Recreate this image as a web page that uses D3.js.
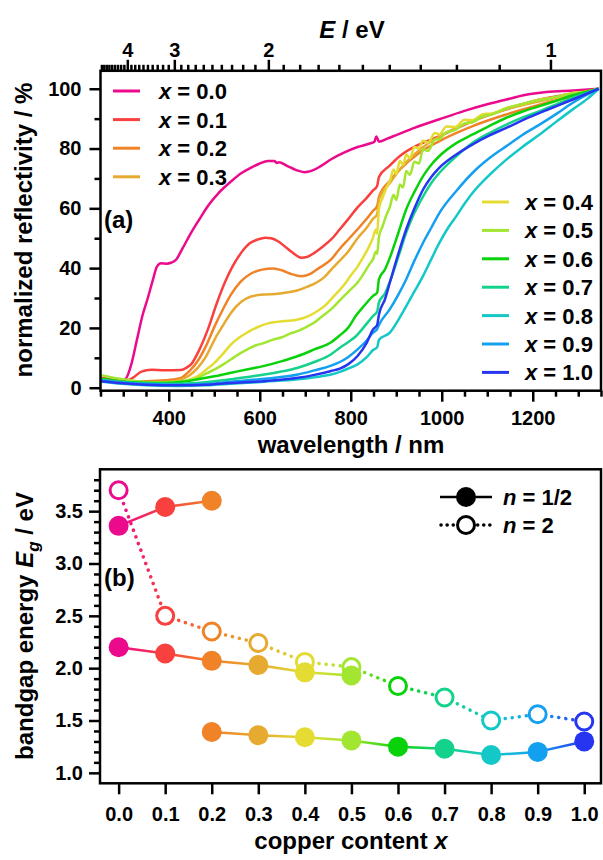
<!DOCTYPE html>
<meta charset="utf-8">
<style>
body { margin: 0; background: #fff; }
svg { font-family: "Liberation Sans", Arial, sans-serif; font-weight: bold; }
.frame { fill: none; stroke: #000; stroke-width: 2.5px; }
.axis path { display: none; }
.axis line { stroke: #000; stroke-width: 2.5px; }
.axis text { font-family: "Liberation Sans", Arial, sans-serif; font-weight: bold; font-size: 20px; fill: #000; }
.spec { fill: none; stroke-width: 2.5px; stroke-linejoin: round; }
.title { font-size: 24px; }
.leg { font-size: 22px; }
</style>
<body>
<svg width="603" height="860"></svg>
</body>
<script src="https://d3js.org/d3.v7.min.js"></script>
<script>

// copper contents and colours
var comps = [0.0, 0.1, 0.2, 0.3, 0.4, 0.5, 0.6, 0.7, 0.8, 0.9, 1.0];
var colors = ["#ec0a8c", "#f8403e", "#f08228", "#e6aa30", "#e4dc32", "#a2e632",
              "#0ad20a", "#14d28c", "#14c8c8", "#14a0f0", "#2636f0"];

// spectra, [wavelength nm, normalized reflectivity %]
var r00 = [[252,3.0],[270,2.6],[290,2.4],[305,3.0],[318,8],[330,16],[342,24],[354,30],[365,36],[374,40.5],[383,41.6],[395,41.5],[405,41.8],[416,42.8],[430,46.5],[449,51.8],[468,56.5],[486,60.8],[510,65.2],[537,69],[560,71.8],[581,73.6],[600,75],[618,75.8],[632,75.8],[638,75.2],[642,75.4],[660,74.2],[680,72.8],[698,72.1],[715,72.6],[735,74.2],[757,76.4],[785,78.6],[815,80.5],[840,81.6],[852,82.3],[856,84],[859,83.2],[862,82.3],[880,83.3],[900,84.5],[940,86.9],[995,89.8],[1050,92.6],[1100,94.8],[1142,96.4],[1180,97.8],[1230,98.9],[1290,99.4],[1345,100]];
var r01 = [[252,3.3],[280,2.6],[303,2.2],[320,3.2],[340,5.4],[362,6.0],[390,5.8],[427,5.9],[440,6.8],[449,7.8],[465,12],[486,19.5],[505,28],[523,35.1],[540,40.5],[559,45.1],[578,48.3],[596,49.6],[612,50.2],[625,50],[640,49],[654,47.4],[672,45.2],[691,43.5],[705,43.8],[720,45.1],[740,47.4],[757,49.6],[776,53],[794,56.3],[815,60.3],[835,63.5],[849,66],[858,67.5],[862,70.5],[885,74.2],[908,77.5],[951,81.4],[995,84.1],[1068,89.2],[1142,93.1],[1215,96.4],[1288,98.4],[1345,100]];
var r02 = [[252,2.8],[300,2.0],[350,2.2],[400,2.6],[427,3.3],[445,5.5],[464,9],[482,14],[501,20.6],[520,26.5],[537,31.2],[558,35.5],[581,38.2],[605,39.5],[630,39.9],[650,39.2],[670,38],[691,37.3],[710,38],[730,40],[757,42.9],[776,46.5],[794,49.5],[815,53],[835,56.5],[849,59.2],[858,60.8],[862,63.8],[886,69.2],[908,73],[951,78.6],[995,82.5],[1068,87.5],[1142,91.4],[1215,94.7],[1288,97.5],[1345,100]];
var r03 = [[252,2.5],[300,1.8],[350,1.6],[400,2.0],[427,2.8],[446,4.2],[464,6.7],[482,10.5],[501,16.2],[520,21],[537,25.1],[560,28.8],[581,30.5],[610,31.2],[640,31.4],[665,32],[684,32.6],[705,33.8],[725,35.2],[742,37],[760,40],[776,42.5],[794,45.5],[815,50],[835,53.5],[849,56.5],[858,58],[862,63],[886,68.5],[908,73],[951,79.5],[995,84.1],[1068,89.2],[1142,93.1],[1215,95.8],[1288,98],[1345,100]];
var r04 = [[252,2.2],[300,1.6],[350,1.3],[400,1.5],[440,2.4],[464,3.9],[482,6],[501,8.4],[520,11.5],[537,14.5],[555,16.8],[574,18.6],[596,20.3],[620,21.6],[654,22.3],[676,22.6],[698,23.4],[720,25],[742,27.3],[764,30.8],[786,34.5],[800,37.5],[815,40.5],[828,43.8],[838,46.5],[849,50.2],[855,52.8],[858,51.5],[862,60],[870,63.5],[878,66.8],[886,69.2],[894,73],[900,71.5],[908,75.8],[915,74.6],[922,78],[930,76.8],[940,80.5],[950,80],[958,82.6],[970,82],[985,85.2],[995,84.7],[1010,87.4],[1030,87.2],[1050,89.6],[1068,89.5],[1090,91.5],[1110,91.7],[1142,93.6],[1180,95],[1215,96.4],[1250,97.2],[1288,98.6],[1320,99.1],[1345,100]];
var r05 = [[252,4.2],[270,3.6],[300,2.8],[330,2.2],[360,1.8],[400,1.8],[440,2.4],[464,3.3],[482,4.7],[501,6.1],[520,7.8],[537,9.5],[556,11.4],[574,12.9],[592,14.2],[610,15],[628,16],[647,16.8],[665,18],[684,19],[702,20.3],[720,21.8],[738,24],[757,26.3],[776,29.2],[794,32],[815,35.2],[830,38.5],[842,41.5],[849,43],[855,45.5],[858,44.8],[862,50.5],[870,54],[878,57.6],[886,60.5],[894,64.5],[900,62.8],[908,68],[915,67],[922,72.5],[930,71.2],[940,75.6],[950,75],[959,79.8],[970,79.2],[985,83],[995,83.2],[1010,85.4],[1030,86.2],[1050,88.4],[1068,88.8],[1090,90.8],[1110,91.4],[1142,93.4],[1180,95],[1215,96.2],[1250,97.2],[1288,98.4],[1320,99],[1345,100]];
var r06 = [[252,3.0],[280,2.4],[320,1.8],[380,1.6],[430,2],[464,2.8],[500,3.8],[537,5],[574,6.2],[610,7.3],[647,8.8],[684,10.6],[720,12.8],[757,15.2],[776,17.5],[794,20],[812,24.2],[830,27.5],[849,30.7],[858,31.8],[862,36.3],[875,39.5],[886,43.5],[904,51.5],[922,59.7],[940,65.5],[959,70.8],[977,74.6],[995,77.5],[1032,81.8],[1068,84.7],[1105,87.6],[1142,90.3],[1178,92.4],[1215,94.2],[1252,96],[1288,97.8],[1345,100]];
var r07 = [[252,2.6],[290,2.0],[350,1.4],[420,1.3],[480,1.8],[537,2.8],[574,3.6],[610,4.4],[647,5.4],[684,6.7],[720,8.6],[757,11.2],[776,13.4],[794,15.2],[812,17.3],[830,20.5],[849,24],[858,25.5],[862,28.5],[875,31.5],[886,35.5],[904,43.5],[922,51.9],[940,58.5],[959,64],[977,68.5],[995,71.9],[1032,77.4],[1068,81.9],[1105,85.2],[1142,88],[1178,90.4],[1215,92.5],[1252,94.8],[1288,97],[1345,100]];
var r08 = [[252,2.0],[290,1.4],[350,0.8],[420,0.6],[480,0.8],[537,1.3],[610,2],[684,2.8],[720,3.5],[757,4.4],[776,5.3],[794,6.4],[815,7.8],[835,10.2],[849,12.6],[858,13.5],[862,16],[886,18.4],[904,22.5],[922,27.3],[940,32.2],[959,37.4],[977,43],[995,48.5],[1014,53.5],[1032,57.4],[1050,61.5],[1068,65.2],[1105,71.2],[1142,76.3],[1178,80.6],[1215,84.7],[1252,89],[1288,93.1],[1320,96.6],[1345,100]];
var r09 = [[252,2.4],[290,1.8],[350,1.2],[420,1.0],[480,1.2],[537,2],[610,3.0],[684,4.4],[720,5.8],[757,7.4],[776,8.6],[794,10.2],[815,12.8],[835,15.8],[849,18.4],[858,19.6],[862,21],[886,26.3],[904,31],[922,36.3],[940,42.5],[959,48.5],[977,53.5],[995,58.5],[1032,65.8],[1068,71.9],[1105,76.8],[1142,80.8],[1178,84.6],[1215,88],[1252,91.6],[1288,95.3],[1345,100]];
var r10 = [[252,2.2],[290,1.6],[350,1.0],[420,0.8],[480,1.0],[537,1.6],[610,2.2],[684,3.3],[720,4.3],[757,5.6],[776,6.4],[794,7.8],[815,10.6],[835,15],[849,19.5],[858,21],[862,24.5],[875,29.5],[886,35.2],[904,44.5],[922,53],[940,60],[959,66.3],[977,70.5],[995,73.6],[1032,78],[1068,81.4],[1105,84.4],[1142,86.9],[1178,89.5],[1215,91.9],[1252,94.2],[1288,96.4],[1345,100]];
var spectra = [r00, r01, r02, r03, r04, r05, r06, r07, r08, r09, r10];

// bandgaps, [copper content, Eg eV]
var egHalfA = [[0.0,3.36],[0.1,3.54],[0.2,3.60]];
var egHalfB = [[0.0,2.20],[0.1,2.14],[0.2,2.07],[0.3,2.03],[0.4,1.96],[0.5,1.93]];
var egHalfC = [[0.2,1.39],[0.3,1.36],[0.4,1.34],[0.5,1.31],[0.6,1.25],[0.7,1.23],[0.8,1.17],[0.9,1.20],[1.0,1.30]];
var egTwo = [[0.0,3.70],[0.1,2.50],[0.2,2.35],[0.3,2.24],[0.4,2.06],[0.5,2.01],[0.6,1.83],[0.7,1.72],[0.8,1.50],[0.9,1.56],[1.0,1.49]];

// ticks
var wlMajor = [400, 600, 800, 1000, 1200];
var wlMinor = [250, 300, 350, 450, 500, 550, 650, 700, 750, 850, 900, 950, 1050, 1100, 1150, 1250, 1300, 1350];
var rMajor = [0, 20, 40, 60, 80, 100];
var rMinor = [10, 30, 50, 70, 90];
var eMajor = [1, 2, 3, 4];
var eMinor = d3.range(11, 50).filter(function(d) { return d % 10 != 0; }).map(function(d) { return d / 10; });
var cuTicks = [0.0, 0.1, 0.2, 0.3, 0.4, 0.5, 0.6, 0.7, 0.8, 0.9, 1.0];
var egMajor = [1.0, 1.5, 2.0, 2.5, 3.0, 3.5];
var egMinor = d3.range(10, 39).filter(function(d) { return d % 5 != 0; }).map(function(d) { return d / 10; });

var svg = d3.select("svg");
var defs = svg.append("defs");

function colorOf(c) { return colors[Math.round(c * 10)]; }

// ---------- panel (a) ----------
var xA = d3.scaleLinear().domain([250, 1350]).range([100.5, 601]);
var yA = d3.scaleLinear().domain([-1, 106]).range([390.7, 70.8]);

defs.append("clipPath").attr("id", "clipA")
  .append("rect")
  .attr("x", xA.range()[0]).attr("y", yA.range()[1])
  .attr("width", xA.range()[1] - xA.range()[0])
  .attr("height", yA.range()[0] - yA.range()[1]);

var line = d3.line()
  .x(function(d) { return xA(d[0]); })
  .y(function(d) { return yA(d[1]); })
  .curve(d3.curveMonotoneX);

svg.append("g").attr("clip-path", "url(#clipA)")
  .selectAll("path").data(spectra).enter()
  .append("path")
  .attr("class", "spec")
  .attr("d", line)
  .style("stroke", function(d, i) { return colors[i]; });

svg.append("g").attr("class", "axis")
  .attr("transform", "translate(0," + yA.range()[0] + ")")
  .call(d3.axisBottom(xA).tickValues(wlMinor).tickSize(6).tickFormat(""));
svg.append("g").attr("class", "axis")
  .attr("transform", "translate(0," + yA.range()[0] + ")")
  .call(d3.axisBottom(xA).tickValues(wlMajor).tickSize(11).tickPadding(9).tickFormat(d3.format("d")));

svg.append("g").attr("class", "axis")
  .attr("transform", "translate(" + xA.range()[0] + ",0)")
  .call(d3.axisLeft(yA).tickValues(rMinor).tickSize(6).tickFormat(""));
svg.append("g").attr("class", "axis")
  .attr("transform", "translate(" + xA.range()[0] + ",0)")
  .call(d3.axisLeft(yA).tickValues(rMajor).tickSize(11).tickPadding(8));

// top energy axis
var gTop = svg.append("g").attr("class", "axis");
gTop.selectAll(".emin").data(eMinor).enter().append("line")
  .attr("class", "emin")
  .attr("x1", function(e) { return xA(1240 / e); })
  .attr("x2", function(e) { return xA(1240 / e); })
  .attr("y1", yA.range()[1]).attr("y2", yA.range()[1] - 6);
gTop.selectAll(".emaj").data(eMajor).enter().append("line")
  .attr("class", "emaj")
  .attr("x1", function(e) { return xA(1240 / e); })
  .attr("x2", function(e) { return xA(1240 / e); })
  .attr("y1", yA.range()[1]).attr("y2", yA.range()[1] - 11);
gTop.selectAll("text").data(eMajor).enter().append("text")
  .attr("x", function(e) { return xA(1240 / e); })
  .attr("y", 57)
  .attr("text-anchor", "middle")
  .text(function(e) { return e; });

svg.append("rect").attr("class", "frame")
  .attr("x", xA.range()[0]).attr("y", yA.range()[1])
  .attr("width", xA.range()[1] - xA.range()[0])
  .attr("height", yA.range()[0] - yA.range()[1]);

var et = svg.append("text").attr("class", "title")
  .attr("x", 352).attr("y", 38).attr("text-anchor", "middle");
et.append("tspan").style("font-style", "italic").text("E");
et.append("tspan").text(" / eV");

svg.append("text").attr("class", "title")
  .attr("x", 351).attr("y", 453).attr("text-anchor", "middle")
  .text("wavelength / nm");

svg.append("text").attr("class", "title")
  .attr("transform", "translate(32,230) rotate(-90)")
  .attr("text-anchor", "middle")
  .text("normalized reflectivity / %");

svg.append("text").attr("class", "title")
  .attr("x", 104).attr("y", 228).text("(a)");

// legends of (a)
function legendRow(g, i, lx, tx, y) {
  g.append("line")
    .attr("x1", lx).attr("x2", lx + 27).attr("y1", y).attr("y2", y)
    .style("stroke", colors[i]).style("stroke-width", "3px");
  var t = g.append("text").attr("class", "leg")
    .attr("x", tx).attr("y", y).attr("dy", "0.36em");
  t.append("tspan").style("font-style", "italic").text("x");
  t.append("tspan").text(" = " + comps[i].toFixed(1));
}
var legA = svg.append("g");
[0, 1, 2, 3].forEach(function(i, k) { legendRow(legA, i, 113, 159, 91 + k * 28.6); });
[4, 5, 6, 7, 8, 9, 10].forEach(function(i, k) { legendRow(legA, i, 482, 525, 202 + k * 28.4); });

// ---------- panel (b) ----------
var xB = d3.scaleLinear().domain([-0.04, 1.036]).range([100, 601]);
var yB = d3.scaleLinear().domain([0.9, 3.9]).range([783.3, 469.3]);

var gid = 0;
function segments(g, data, dotted) {
  for (var i = 0; i < data.length - 1; i++) {
    var a = data[i], b = data[i + 1];
    var id = "gr" + (gid++);
    var lg = defs.append("linearGradient").attr("id", id)
      .attr("gradientUnits", "userSpaceOnUse")
      .attr("x1", xB(a[0])).attr("y1", yB(a[1]))
      .attr("x2", xB(b[0])).attr("y2", yB(b[1]));
    lg.append("stop").attr("offset", "0").attr("stop-color", colorOf(a[0]));
    lg.append("stop").attr("offset", "1").attr("stop-color", colorOf(b[0]));
    var l = g.append("line")
      .attr("x1", xB(a[0])).attr("y1", yB(a[1]))
      .attr("x2", xB(b[0])).attr("y2", yB(b[1]))
      .style("stroke", "url(#" + id + ")");
    if (dotted) {
      l.style("stroke-width", "3.5px").style("stroke-dasharray", "0.1 7").style("stroke-linecap", "round");
    } else {
      l.style("stroke-width", "2.5px");
    }
  }
}

var gb = svg.append("g");
segments(gb, egTwo, true);
gb.selectAll(".open").data(egTwo).enter().append("circle")
  .attr("class", "open")
  .attr("cx", function(d) { return xB(d[0]); })
  .attr("cy", function(d) { return yB(d[1]); })
  .attr("r", 8.5)
  .style("fill", "#fff")
  .style("stroke", function(d) { return colorOf(d[0]); })
  .style("stroke-width", "3px");

[egHalfA, egHalfB, egHalfC].forEach(function(s) {
  segments(gb, s, false);
});
[egHalfA, egHalfB, egHalfC].forEach(function(s) {
  gb.selectAll(null).data(s).enter().append("circle")
    .attr("cx", function(d) { return xB(d[0]); })
    .attr("cy", function(d) { return yB(d[1]); })
    .attr("r", 10)
    .style("fill", function(d) { return colorOf(d[0]); });
});

svg.append("g").attr("class", "axis")
  .attr("transform", "translate(0," + yB.range()[0] + ")")
  .call(d3.axisBottom(xB).tickValues(cuTicks).tickSize(11).tickPadding(13).tickFormat(d3.format(".1f")));

svg.append("g").attr("class", "axis")
  .attr("transform", "translate(" + xB.range()[0] + ",0)")
  .call(d3.axisLeft(yB).tickValues(egMinor).tickSize(6).tickFormat(""));
svg.append("g").attr("class", "axis")
  .attr("transform", "translate(" + xB.range()[0] + ",0)")
  .call(d3.axisLeft(yB).tickValues(egMajor).tickSize(11).tickPadding(6).tickFormat(d3.format(".1f")));

svg.append("rect").attr("class", "frame")
  .attr("x", xB.range()[0]).attr("y", yB.range()[1])
  .attr("width", xB.range()[1] - xB.range()[0])
  .attr("height", yB.range()[0] - yB.range()[1]);

var ct = svg.append("text").attr("class", "title")
  .attr("x", 351).attr("y", 849).attr("text-anchor", "middle");
ct.append("tspan").text("copper content ");
ct.append("tspan").style("font-style", "italic").text("x");

var yt = svg.append("text").attr("class", "title")
  .attr("transform", "translate(33,626) rotate(-90)")
  .attr("text-anchor", "middle");
yt.append("tspan").text("bandgap energy ");
yt.append("tspan").style("font-style", "italic").text("E");
yt.append("tspan").style("font-style", "italic").style("font-size", "17px").attr("dy", 6).text("g");
yt.append("tspan").attr("dy", -6).text(" / eV");

svg.append("text").attr("class", "title")
  .attr("x", 104).attr("y", 586).text("(b)");

// legend of (b)
var legB = svg.append("g");
legB.append("line").attr("x1", 440).attr("x2", 492).attr("y1", 497).attr("y2", 497)
  .style("stroke", "#000").style("stroke-width", "2.5px");
legB.append("circle").attr("cx", 466).attr("cy", 497).attr("r", 10).style("fill", "#000");
legB.append("line").attr("x1", 441).attr("x2", 492).attr("y1", 525).attr("y2", 525)
  .style("stroke", "#000").style("stroke-width", "3.5px")
  .style("stroke-dasharray", "0.1 6").style("stroke-linecap", "round");
legB.append("circle").attr("cx", 466).attr("cy", 525).attr("r", 8.5)
  .style("fill", "#fff").style("stroke", "#000").style("stroke-width", "3px");
[["1/2", 497], ["2", 525]].forEach(function(r) {
  var t = legB.append("text").attr("class", "leg")
    .attr("x", 503).attr("y", r[1]).attr("dy", "0.36em");
  t.append("tspan").style("font-style", "italic").text("n");
  t.append("tspan").text(" = " + r[0]);
});

</script>
